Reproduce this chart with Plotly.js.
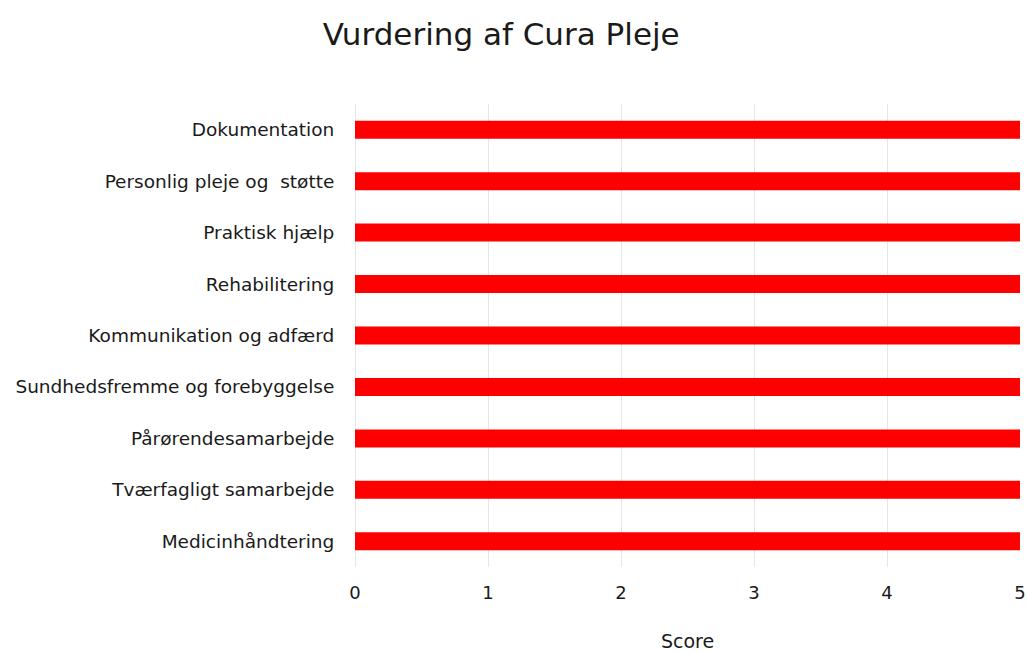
<!DOCTYPE html>
<html><head><meta charset="utf-8">
<script src="https://cdn.plot.ly/plotly-3.0.1.min.js"></script>
<style>html,body{margin:0;padding:0;background:#fff}</style>
</head><body>
<div id="chart" style="width:1027px;height:652px"></div>
<script>
const categories = ["Dokumentation", "Personlig pleje og  støtte", "Praktisk hjælp", "Rehabilitering", "Kommunikation og adfærd", "Sundhedsfremme og forebyggelse", "Pårørendesamarbejde", "Tværfagligt samarbejde", "Medicinhåndtering"];
const scores = [5, 5, 5, 5, 5, 5, 5, 5, 5];
const xTicks = [0, 1, 2, 3, 4, 5];

const font = "DejaVu Sans, Verdana, sans-serif";
Plotly.newPlot("chart", [{
  type: "bar", orientation: "h",
  y: categories, x: scores,
  marker: {color: "#ff0000"},
  width: 0.35,
  hoverinfo: "x+y"
}], {
  width: 1027, height: 652,
  margin: {l: 355, r: 7, t: 104, b: 85},
  paper_bgcolor: "#fff", plot_bgcolor: "#fff",
  showlegend: false,
  font: {family: font, color: "#222"},
  title: {text: "Vurdering af Cura Pleje", x: 0.488, xanchor: "center", y: 0.948, yanchor: "middle",
    font: {family: font, size: 31, color: "#1a1a1a"}},
  xaxis: {range: [0, 5], tickvals: xTicks, showgrid: true, gridcolor: "#e6e6e6",
    zeroline: true, zerolinecolor: "#e6e6e6", showline: false,
    ticks: "outside", ticklen: 9, tickcolor: "rgba(0,0,0,0)",
    tickfont: {size: 18, color: "#1a1a1a"},
    title: {text: "Score", standoff: 36, font: {size: 19, color: "#1a1a1a"}}, automargin: false},
  yaxis: {autorange: "reversed", type: "category", showgrid: false, zeroline: false, showline: false,
    ticks: "outside", ticklen: 16, tickcolor: "rgba(0,0,0,0)",
    tickfont: {size: 18.5, color: "#1a1a1a"}, automargin: false}
}, {displayModeBar: false, staticPlot: true});
</script>
</body></html>
